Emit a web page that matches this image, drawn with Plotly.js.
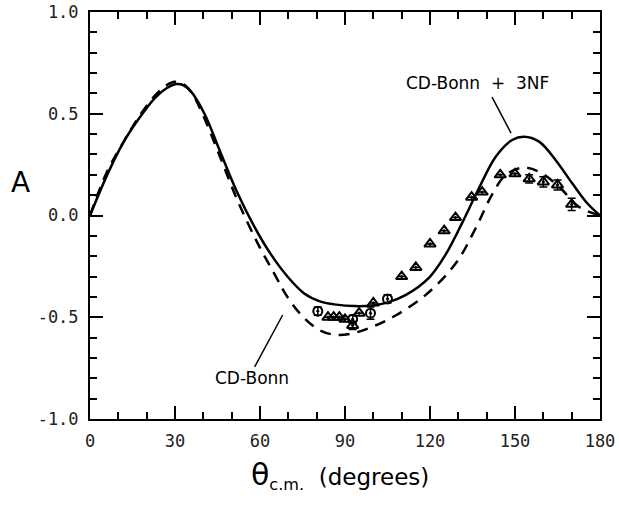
<!DOCTYPE html>
<html>
<head>
<meta charset="utf-8">
<script src="https://cdn.plot.ly/plotly-3.0.1.min.js"></script>
<style>html,body{margin:0;padding:0;background:#fff;}#chart{width:619px;height:510px;}</style>
</head>
<body>
<div id="chart"></div>
<script>
// CD-Bonn + 3NF (solid)
var bonn3nfAngle = [0, 6.3, 11.6, 16.9, 22.8, 27, 30.4, 33, 35.7, 40.4, 46.2, 52.1, 58, 63.8, 69.7, 75.6, 81.4, 87, 93.2, 99, 104.9, 111.5, 119.7, 125.6, 131.4, 137.3, 143.2, 149, 153.2, 158.5, 164.3, 170.2, 175.5, 180];
var bonn3nfA = [0, 0.207, 0.355, 0.469, 0.576, 0.625, 0.646, 0.64, 0.609, 0.50, 0.305, 0.109, -0.055, -0.19, -0.30, -0.383, -0.423, -0.438, -0.445, -0.443, -0.428, -0.39, -0.305, -0.19, -0.035, 0.135, 0.289, 0.371, 0.387, 0.363, 0.273, 0.158, 0.06, 0];

// CD-Bonn (dashed)
var bonnAngle = [0, 6, 12, 17, 23, 27, 30, 33, 36, 40, 46, 52, 59.2, 65.6, 69.2, 75.1, 81, 86.9, 92.7, 99.8, 108, 118.5, 129.1, 136.2, 142, 146.7, 152.6, 158.5, 165.5, 172.5, 180];
var bonnA = [0, 0.215, 0.365, 0.48, 0.59, 0.64, 0.657, 0.645, 0.60, 0.49, 0.285, 0.076, -0.137, -0.30, -0.39, -0.497, -0.563, -0.587, -0.579, -0.546, -0.49, -0.39, -0.235, -0.06, 0.105, 0.199, 0.235, 0.215, 0.142, 0.043, 0];

// Data: triangles
var triAngle = [84, 86, 88, 90, 92.7, 95, 100, 110, 115, 120, 125, 129, 134.7, 138.4, 144.8, 150, 155, 160, 165, 170];
var triA = [-0.50, -0.50, -0.50, -0.51, -0.54, -0.48, -0.43, -0.30, -0.255, -0.14, -0.075, -0.01, 0.09, 0.115, 0.20, 0.205, 0.18, 0.165, 0.15, 0.055];
var triErr = [0, 0, 0, 0, 0.02, 0, 0, 0, 0, 0, 0, 0, 0, 0, 0, 0, 0.02, 0.025, 0.025, 0.03];

// Data: circles
var circAngle = [80.4, 92.7, 99, 105];
var circA = [-0.47, -0.51, -0.48, -0.41];
var circErr = [0.02, 0.02, 0.03, 0.02];

// Axis ticks
var yTickVals = [-1, -0.5, 0, 0.5, 1];
var yTickText = ['-1.0', '-0.5', '0.0', '0.5', '1.0'];
var xTickVals = [0, 30, 60, 90, 120, 150, 180];
var xTickText = ['0', '30', '60', '90', '120', '150', '180'];

var traces = [
  {x: bonn3nfAngle, y: bonn3nfA, mode: 'lines', line: {color: '#000', width: 2.5, shape: 'spline', smoothing: 1}, hoverinfo: 'skip'},
  {x: bonnAngle, y: bonnA, mode: 'lines', line: {color: '#000', width: 2.5, shape: 'spline', smoothing: 1, dash: '11px,8px'}, hoverinfo: 'skip'},
  {x: triAngle, y: triA, mode: 'markers', marker: {symbol: 'triangle-up-open-dot', size: 10, color: '#000', line: {width: 2, color: '#000'}},
   error_y: {type: 'data', array: triErr, visible: true, color: '#000', thickness: 1.5, width: 4}},
  {x: circAngle, y: circA, mode: 'markers', marker: {symbol: 'circle-open-dot', size: 9, color: '#000', line: {width: 2, color: '#000'}},
   error_y: {type: 'data', array: circErr, visible: true, color: '#000', thickness: 1.5, width: 4}}
];

var axisCommon = {
  showgrid: false, zeroline: false, showline: true, linecolor: '#000', linewidth: 2,
  mirror: 'allticks', ticks: 'inside', ticklen: 13, tickwidth: 2, tickcolor: '#000',
  tickfont: {family: 'DejaVu Sans Mono', size: 17, color: '#222'}
};

var layout = {
  width: 619, height: 510,
  margin: {l: 90, r: 19, t: 12, b: 91},
  paper_bgcolor: '#fff', plot_bgcolor: '#fff',
  showlegend: false,
  xaxis: Object.assign({}, axisCommon, {
    range: [0, 180], tickmode: 'array', tickvals: xTickVals, ticktext: xTickText,
    ticklabelstandoff: 6,
    minor: {dtick: 10, ticks: 'inside', ticklen: 7, tickwidth: 2, tickcolor: '#000'}
  }),
  yaxis: Object.assign({}, axisCommon, {
    range: [-1, 1], tickmode: 'array', tickvals: yTickVals, ticktext: yTickText,
    ticklabelstandoff: 6,
    minor: {dtick: 0.1, ticks: 'inside', ticklen: 7, tickwidth: 2, tickcolor: '#000'}
  }),
  shapes: [
    {type: 'line', xref: 'x', yref: 'y', x0: 141.9, y0: 0.582, x1: 148.6, y1: 0.405, line: {color: '#000', width: 1.5}},
    {type: 'line', xref: 'x', yref: 'y', x0: 68, y0: -0.489, x1: 58.1, y1: -0.744, line: {color: '#000', width: 1.5}}
  ],
  annotations: [
    {xref: 'x', yref: 'y', x: 136.8, y: 0.65, text: 'CD-Bonn\u00A0\u00A0+\u00A0\u00A03NF', showarrow: false,
     font: {family: 'DejaVu Sans', size: 17, color: '#000'}, xanchor: 'center', yanchor: 'middle'},
    {xref: 'x', yref: 'y', x: 57.2, y: -0.80, text: 'CD-Bonn', showarrow: false,
     font: {family: 'DejaVu Sans', size: 17, color: '#000'}, xanchor: 'center', yanchor: 'middle'},
    {xref: 'paper', yref: 'paper', x: -0.137, y: 0.582, text: 'A', showarrow: false,
     font: {family: 'DejaVu Sans', size: 28, color: '#000'}, xanchor: 'center', yanchor: 'middle'},
    {xref: 'paper', yref: 'paper', x: 0.49, y: -0.14, text: '<span style="font-size:30px">θ</span><sub>c.m.</sub>\u00A0\u00A0(degrees)', showarrow: false,
     font: {family: 'DejaVu Sans', size: 23, color: '#000'}, xanchor: 'center', yanchor: 'middle'}
  ]
};

Plotly.newPlot('chart', traces, layout, {displayModeBar: false, staticPlot: true});
</script>
</body>
</html>
